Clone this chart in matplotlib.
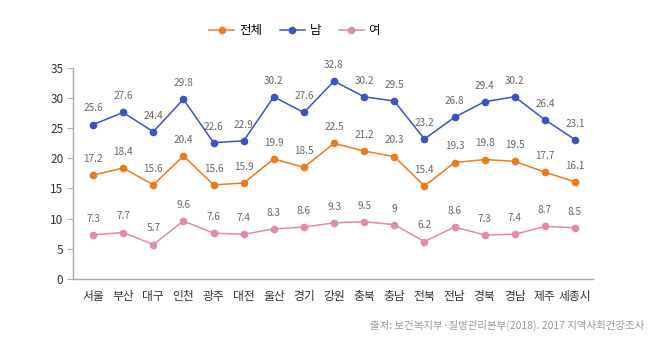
import numpy as np
import matplotlib
matplotlib.use("Agg")
import matplotlib.pyplot as plt

plt.rcParams['font.family'] = ['Noto Sans CJK KR', 'DejaVu Sans']

regions = ['서울', '부산', '대구', '인천', '광주', '대전', '울산', '경기', '강원',
           '충북', '충남', '전북', '전남', '경북', '경남', '제주', '세종시']
total = [17.2, 18.4, 15.6, 20.4, 15.6, 15.9, 19.9, 18.5, 22.5,
         21.2, 20.3, 15.4, 19.3, 19.8, 19.5, 17.7, 16.1]
male = [25.6, 27.6, 24.4, 29.8, 22.6, 22.9, 30.2, 27.6, 32.8,
        30.2, 29.5, 23.2, 26.8, 29.4, 30.2, 26.4, 23.1]
female = [7.3, 7.7, 5.7, 9.6, 7.6, 7.4, 8.3, 8.6, 9.3,
          9.5, 9, 6.2, 8.6, 7.3, 7.4, 8.7, 8.5]
yticks = [0, 5, 10, 15, 20, 25, 30, 35]

series = [('전체', total, '#ef7a1a'),
          ('남', male, '#3a52c8'),
          ('여', female, '#e48aa2')]

fig = plt.figure(figsize=(6.59, 3.41), dpi=100)
ax = fig.add_axes([0.111, 0.182, 0.789, 0.619])
x = np.arange(len(regions))

for name, vals, col in series:
    ax.plot(x, vals, color=col, lw=1.1, marker='o', ms=4.5, label=name)
    for xi, v in zip(x, vals):
        ax.annotate(f'{v:g}', (xi, v), xytext=(0, 8), textcoords='offset points',
                    ha='center', va='bottom', fontsize=7.2, color='#666666')

ax.set_xlim(-0.66, 16.6)
ax.set_ylim(0, 35)
ax.set_yticks(yticks)
ax.set_xticks(x)
ax.set_xticklabels(regions)
ax.tick_params(axis='y', length=4, color='#aaaaaa', labelsize=8.5, labelcolor='#333333', pad=3)
ax.tick_params(axis='x', length=0, labelsize=8.5, labelcolor='#333333', pad=8)
for s in ['top', 'right']:
    ax.spines[s].set_visible(False)
for s in ['left', 'bottom']:
    ax.spines[s].set_color('#aaaaaa')
    ax.spines[s].set_linewidth(1)

fig.legend(loc='center', bbox_to_anchor=(0.447, 0.91), ncol=3, frameon=False,
           fontsize=9, handlelength=2.0, columnspacing=1.4, handletextpad=0.4)

fig.text(0.978, 0.045, '출처: 보건복지부·질병관리본부(2018). 2017 지역사회건강조사',
         ha='right', va='center', fontsize=7.5, color='#999999')

fig.savefig('out.png', dpi=100)
